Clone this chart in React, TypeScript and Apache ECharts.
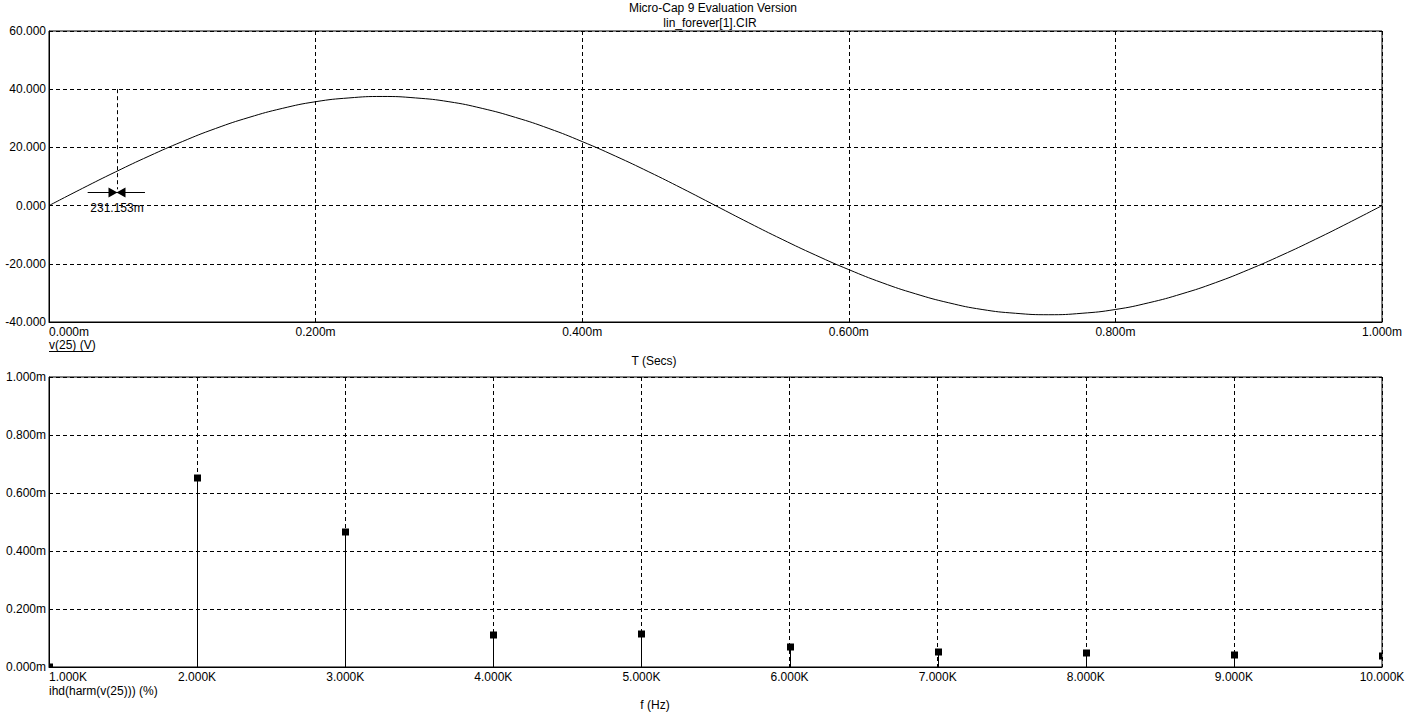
import React, { useEffect, useRef } from "react";
import * as echarts from "echarts";

// Transient plot: time (ms) and v(25) (V)
const timeMs = [
  0, 0.025, 0.05, 0.075, 0.1, 0.125, 0.15, 0.175, 0.2, 0.225, 0.25, 0.275, 0.3, 0.325, 0.35, 0.375, 0.4,
  0.425, 0.45, 0.475, 0.5, 0.525, 0.55, 0.575, 0.6, 0.625, 0.65, 0.675, 0.7, 0.725, 0.75, 0.775, 0.8,
  0.825, 0.85, 0.875, 0.9, 0.925, 0.95, 0.975, 1.0,
];
const voltage = [
  0, 5.9, 11.6, 17.0, 22.0, 26.5, 30.3, 33.4, 35.7, 37.0, 37.5, 37.0, 35.7, 33.4, 30.3, 26.5, 22.0,
  17.0, 11.6, 5.9, 0, -5.9, -11.6, -17.0, -22.0, -26.5, -30.3, -33.4, -35.7, -37.0, -37.5, -37.0, -35.7,
  -33.4, -30.3, -26.5, -22.0, -17.0, -11.6, -5.9, 0,
];

// Harmonic plot: frequency (kHz) and ihd (m%)
const freqK = [1, 2, 3, 4, 5, 6, 7, 8, 9, 10];
const ihd = [0, 0.652, 0.466, 0.11, 0.114, 0.069, 0.052, 0.048, 0.041, 0.038];

// Cursor annotation
const cursorT = 0.051;
const cursorLevel = 4.47;
const cursorLabel = "231.153m";

const topTicks = { min: 0, max: 1, interval: 0.2 };
const topY = { min: -40, max: 60, interval: 20 };
const botTicks = { min: 1, max: 10, interval: 1 };
const botY = { min: 0, max: 1, interval: 0.2 };

const FONT = "'Liberation Sans', Arial, sans-serif";
const dash = [4, 3];

export default function App() {
  const ref = useRef<HTMLDivElement>(null);
  useEffect(() => {
    document.body.style.margin = "0";
    if (!ref.current) return;
    const chart = echarts.init(ref.current, undefined, { renderer: "svg" });

    const axisCommon = {
      axisLine: { show: true, onZero: false, lineStyle: { color: "#000", width: 1 } },
      axisTick: { show: false },
      splitLine: { show: true, lineStyle: { color: "#000", type: dash, width: 1 } },
    };

    const option: any = {
      animation: false,
      backgroundColor: "#fff",
      textStyle: { fontFamily: FONT },
      grid: [
        { left: 49, top: 31, width: 1333, height: 291, show: true, borderColor: "#000", borderWidth: 1 },
        { left: 49, top: 377, width: 1333, height: 290, show: true, borderColor: "#000", borderWidth: 1 },
      ],
      xAxis: [
        {
          type: "value", gridIndex: 0, ...topTicks, ...axisCommon,
          axisLabel: {
            color: "#000", fontSize: 12, fontFamily: FONT, margin: 4,
            formatter: (v: number) => v.toFixed(3) + "m", alignMinLabel: "left",
            showMinLabel: true, showMaxLabel: true,
          },
        },
        {
          type: "value", gridIndex: 1, ...botTicks, ...axisCommon,
          axisLabel: {
            color: "#000", fontSize: 12, fontFamily: FONT, margin: 4,
            formatter: (v: number) => v.toFixed(3) + "K", alignMinLabel: "left",
            showMinLabel: true, showMaxLabel: true,
          },
        },
      ],
      yAxis: [
        {
          type: "value", gridIndex: 0, ...topY, ...axisCommon,
          axisLabel: { color: "#000", fontSize: 12, fontFamily: FONT, margin: 3, formatter: (v: number) => v.toFixed(3) },
        },
        {
          type: "value", gridIndex: 1, ...botY, ...axisCommon,
          axisLabel: { color: "#000", fontSize: 12, fontFamily: FONT, margin: 3, formatter: (v: number) => v.toFixed(3) + "m" },
        },
      ],
      series: [
        {
          type: "line", xAxisIndex: 0, yAxisIndex: 0,
          data: timeMs.map((t, i) => [t, voltage[i]]),
          showSymbol: false, smooth: true,
          lineStyle: { color: "#000", width: 1 },
          silent: true,
          markLine: {
            silent: true, symbol: ["none", "none"], label: { show: false },
            data: [
              [
                { coord: [cursorT, 40], lineStyle: { color: "#000", width: 1, type: dash } },
                { coord: [cursorT, 5.6], lineStyle: { color: "#000", width: 1, type: dash } },
              ],
              [
                { coord: [0.029, cursorLevel], lineStyle: { color: "#000", width: 1, type: "solid" } },
                { coord: [0.072, cursorLevel], lineStyle: { color: "#000", width: 1, type: "solid" } },
              ],
            ],
          },
          markPoint: {
            silent: true,
            data: [
              { coord: [cursorT - 0.003, cursorLevel], symbol: "triangle", symbolSize: [10, 9], symbolRotate: -90, itemStyle: { color: "#000" }, label: { show: false } },
              { coord: [cursorT + 0.003, cursorLevel], symbol: "triangle", symbolSize: [10, 9], symbolRotate: 90, itemStyle: { color: "#000" }, label: { show: false } },
              {
                coord: [cursorT, -0.7], symbol: "circle", symbolSize: 1, itemStyle: { color: "transparent" },
                label: { show: true, position: "inside", formatter: cursorLabel, color: "#000", fontSize: 12, fontFamily: FONT },
              },
            ],
          },
        },
        {
          type: "custom", xAxisIndex: 1, yAxisIndex: 1, clip: true, silent: true,
          data: freqK.map((f, i) => [f, ihd[i]]),
          renderItem: (params: any, api: any) => {
            const x = api.value(0);
            const y = api.value(1);
            const p0 = api.coord([x, 0]);
            const p1 = api.coord([x, y]);
            const cx = Math.round(p0[0]) + 0.5;
            return {
              type: "group",
              children: [
                { type: "line", shape: { x1: cx, y1: p0[1], x2: cx, y2: p1[1] }, style: { stroke: "#000", lineWidth: 1 } },
                { type: "rect", shape: { x: cx - 3.5, y: Math.round(p1[1]) - 3.5, width: 7, height: 7 }, style: { fill: "#000" } },
              ],
            };
          },
        },
      ],
      graphic: [
        { type: "text", style: { x: 713, y: 8, text: "Micro-Cap 9 Evaluation Version", textAlign: "center", textVerticalAlign: "middle", fontSize: 12, fontFamily: FONT, fill: "#000" } },
        { type: "text", style: { x: 710, y: 23, text: "lin_forever[1].CIR", textAlign: "center", textVerticalAlign: "middle", fontSize: 12, fontFamily: FONT, fill: "#000" } },
        { type: "text", style: { x: 49, y: 345, text: "v(25) (V)", textAlign: "left", textVerticalAlign: "middle", fontSize: 12, fontFamily: FONT, fill: "#000" } },
        { type: "line", shape: { x1: 49, y1: 351.5, x2: 93, y2: 351.5 }, style: { stroke: "#000", lineWidth: 1 } },
        { type: "text", style: { x: 654, y: 361, text: "T (Secs)", textAlign: "center", textVerticalAlign: "middle", fontSize: 12, fontFamily: FONT, fill: "#000" } },
        { type: "text", style: { x: 49, y: 691, text: "ihd(harm(v(25))) (%)", textAlign: "left", textVerticalAlign: "middle", fontSize: 12, fontFamily: FONT, fill: "#000" } },
        { type: "text", style: { x: 655, y: 705, text: "f (Hz)", textAlign: "center", textVerticalAlign: "middle", fontSize: 12, fontFamily: FONT, fill: "#000" } },
      ],
    };
    chart.setOption(option);
    return () => chart.dispose();
  }, []);
  return <div ref={ref} style={{ width: 1413, height: 719 }} />;
}
